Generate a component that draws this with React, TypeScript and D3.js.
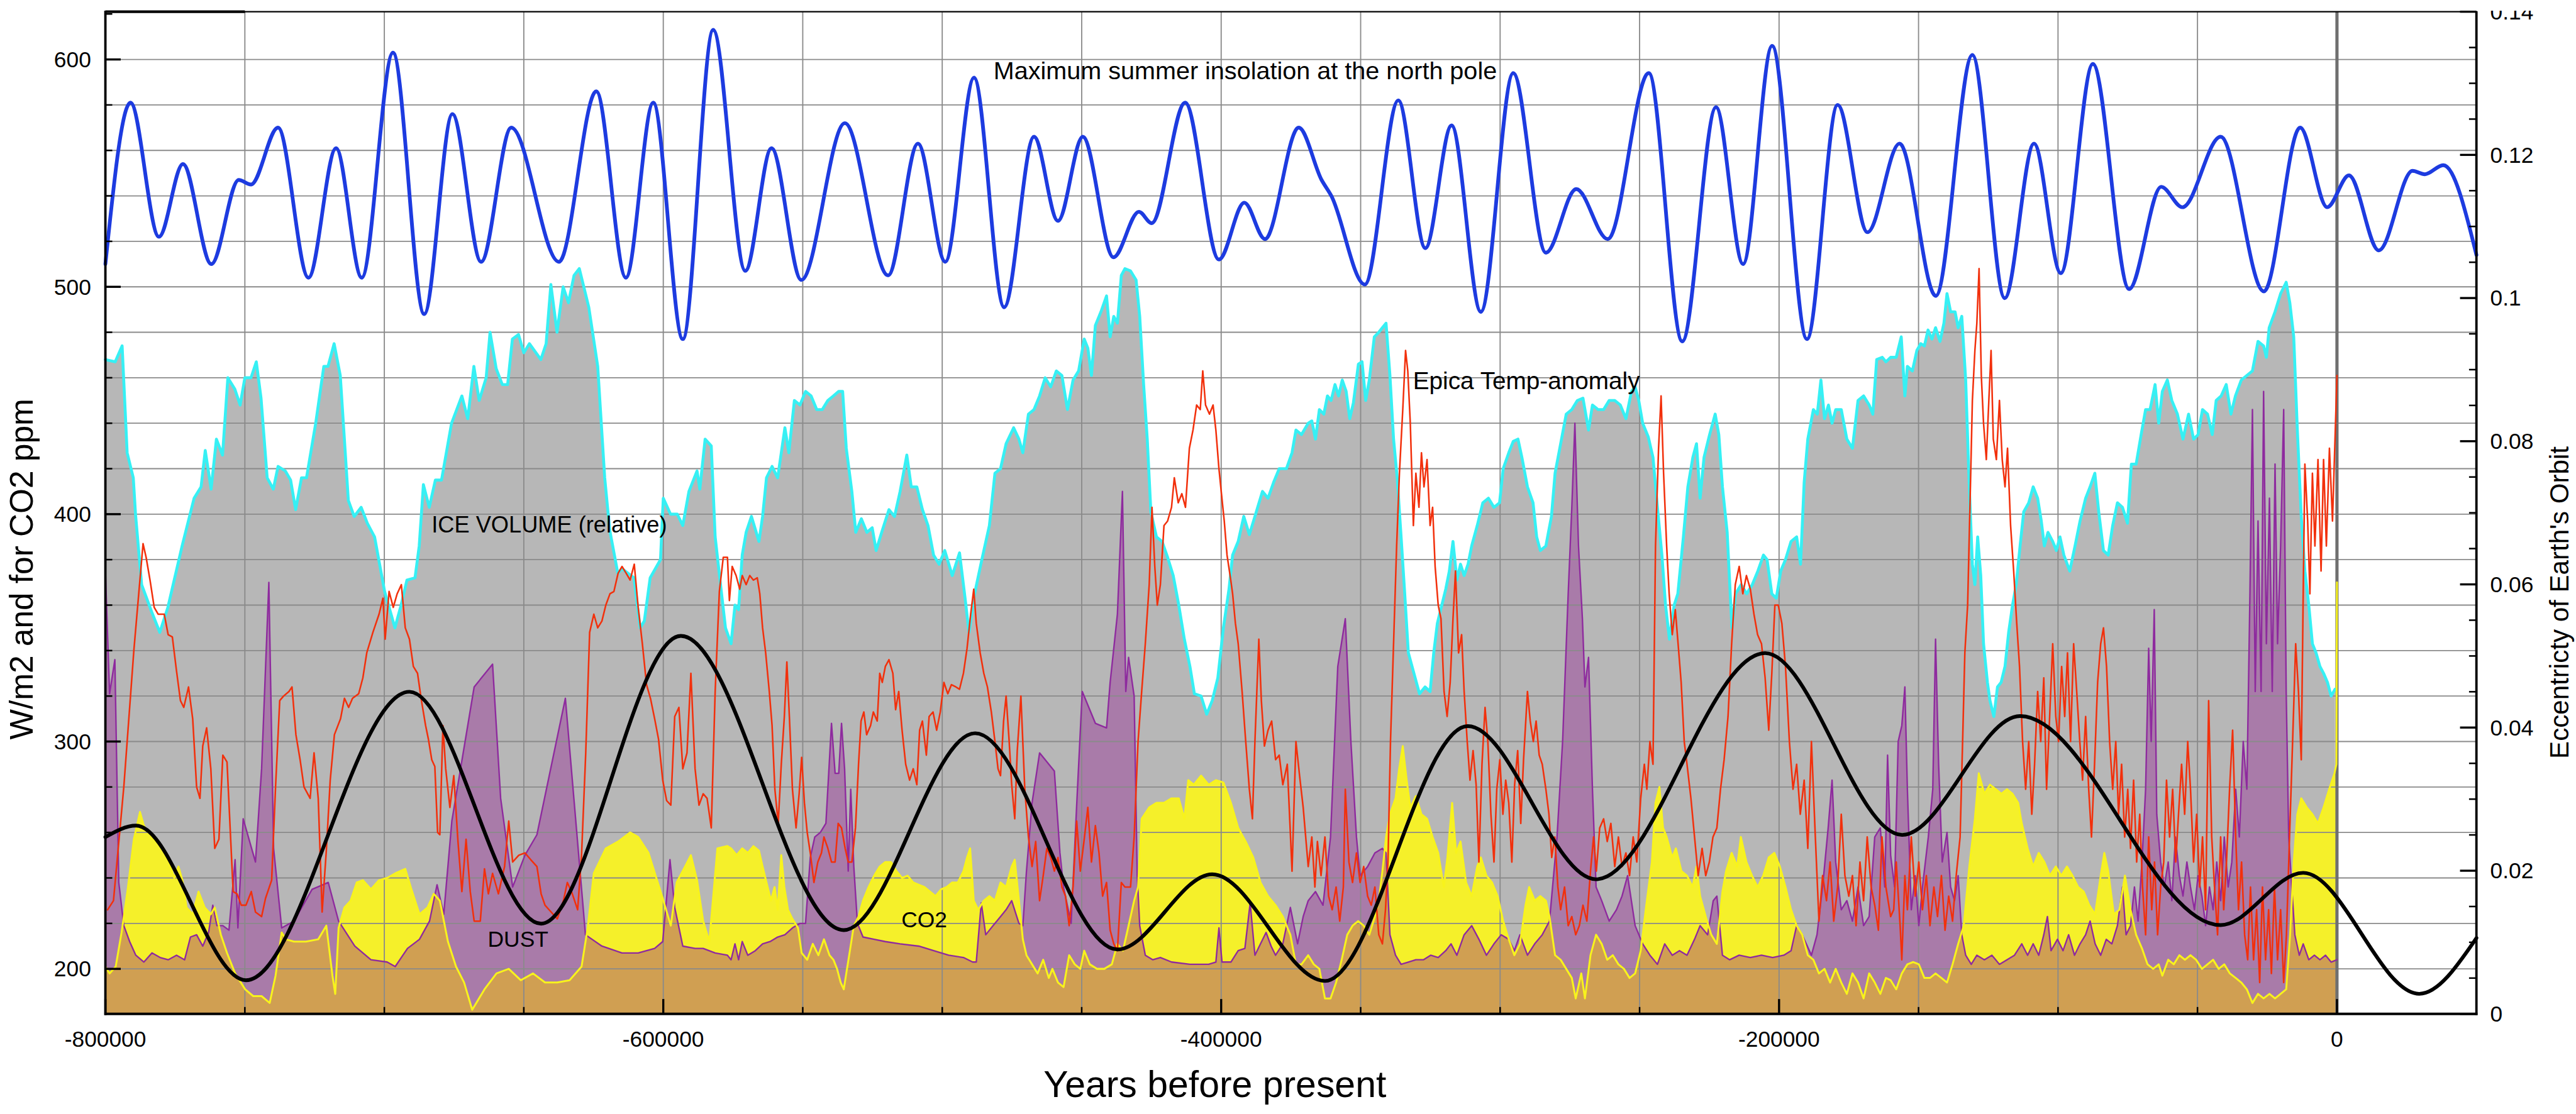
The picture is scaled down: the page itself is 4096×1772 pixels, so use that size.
import React from "react";
import * as d3 from "d3";

type Pt = [number, number];

// x values in thousands of years (negative = before present)

// Maximum summer insolation at the north pole (W/m2), turning points
const insolation: Pt[] = [
  [-800, 510], [-791, 581], [-780.8, 522], [-772.2, 554], [-762, 510], [-752.2, 547], [-747.8, 545], [-738.1, 570],
  [-727.2, 504], [-717.3, 561], [-708.1, 504], [-696.9, 603], [-685.7, 488], [-675.6, 576], [-665.3, 511], [-654.5, 570],
  [-637.4, 511], [-624, 586], [-613.4, 504], [-603.6, 581], [-593, 477], [-582.1, 613], [-570.6, 507], [-561.2, 561],
  [-550.5, 503], [-534.9, 572], [-519.4, 505], [-508.7, 563], [-498.9, 511], [-488.6, 592], [-477.8, 491], [-467.1, 566],
  [-458.5, 529], [-449.6, 566], [-438.6, 513], [-429.5, 533], [-424.9, 528], [-412.9, 581], [-400.8, 512], [-391.7, 537],
  [-384.3, 521], [-372.2, 570], [-364, 547], [-360.5, 540], [-348.5, 501], [-336.5, 582], [-326.8, 517], [-317.4, 571],
  [-306.9, 489], [-295.3, 594], [-283.6, 515], [-272.7, 543], [-261.4, 521], [-246.7, 594], [-234.7, 476], [-222.6, 579],
  [-212.9, 510], [-202.5, 606], [-190, 477], [-179, 580], [-168.3, 524], [-156.8, 563], [-143.8, 496], [-130.7, 602],
  [-119.1, 495], [-108.6, 563], [-99, 506], [-87.5, 598], [-74.5, 499], [-63, 544], [-55.4, 535], [-41.7, 566],
  [-26.2, 498], [-13.2, 570], [-3.5, 535], [4.3, 549], [15, 516], [27.1, 551], [31.5, 549.5], [38.1, 553.5], [50, 514],
];

// Eccentricity of Earth's orbit, turning points
const eccentricity: Pt[] = [
  [-800, 0.0247], [-789, 0.0263], [-749.6, 0.0047], [-691, 0.045], [-643.8, 0.0126], [-593.7, 0.0528],
  [-535.3, 0.0117], [-488.2, 0.0392], [-437.2, 0.009], [-403.2, 0.0195], [-362.8, 0.0046], [-311.6, 0.0402],
  [-265.6, 0.0188], [-205, 0.0504], [-155.9, 0.025], [-113.6, 0.0416], [-41.7, 0.0124], [-12.1, 0.0197],
  [29.5, 0.0028], [50, 0.0106],
];

// Relative ice volume
const iceVolume: Pt[] = [
  [-800, 468], [-796.5, 467], [-794, 474], [-792.2, 427], [-790, 416], [-789.2, 400], [-787, 369], [-783.4, 357], [-780.5, 348],
  [-777.6, 359], [-772.5, 386], [-768.2, 407], [-765.7, 412], [-764.2, 428], [-762.1, 411], [-760.2, 433], [-758, 426], [-756.1, 460],
  [-753.6, 455], [-751.7, 448], [-750, 460], [-747.8, 460], [-745.9, 467], [-744.2, 451], [-742, 416], [-739.8, 411], [-738.1, 421],
  [-735.5, 419], [-733.6, 415], [-731.8, 402], [-729.7, 416], [-727.9, 416], [-724.6, 440], [-721.7, 465], [-720.2, 465], [-718, 475],
  [-715.8, 461], [-712.9, 406], [-710.8, 399], [-708.3, 403], [-706.1, 396], [-703.5, 390], [-699.9, 366], [-696.2, 350], [-694, 360],
  [-691.9, 371], [-689, 372], [-687.5, 386], [-686, 413], [-683.9, 403], [-681.7, 415], [-679.5, 415], [-675.9, 440], [-672.2, 452],
  [-670.1, 442], [-667.9, 465], [-666, 450], [-663.5, 460], [-662.1, 480], [-659.9, 464], [-657.7, 457], [-655.8, 457], [-654.1, 477],
  [-651.9, 479], [-650, 471], [-648, 475], [-643.9, 468], [-642, 475], [-640.3, 501], [-638.1, 480], [-635.9, 500], [-634, 493],
  [-632, 505], [-630.1, 508], [-626.7, 491], [-623.5, 465], [-621, 416], [-619.2, 393], [-616.3, 374], [-614.8, 376], [-610.5, 372],
  [-608.3, 350], [-606.8, 353], [-604.7, 372], [-601, 380], [-600, 407], [-597.4, 400], [-595, 400], [-593, 395], [-590.8, 410],
  [-587.9, 419], [-586.9, 411], [-585, 433], [-582.8, 430], [-581.4, 390], [-579.2, 366], [-577.7, 350],
  [-575.7, 343], [-574.3, 360], [-573, 358], [-571.7, 382], [-570.3, 392], [-568.4, 399], [-565.7, 388], [-564.4, 399], [-563, 416],
  [-561, 421], [-559, 416], [-557.7, 427], [-556.4, 438], [-555, 427], [-553, 450], [-551, 448], [-549, 454], [-547, 452], [-545, 446],
  [-543, 446], [-541, 450], [-539, 452], [-537.1, 454], [-535.7, 454], [-534.4, 429], [-532.4, 410], [-531, 392], [-529, 398],
  [-527, 392], [-525.1, 394], [-523.7, 384], [-521.7, 392], [-519.1, 402], [-517.1, 399], [-515.1, 410], [-512.7, 426], [-511.1, 412],
  [-509.1, 412], [-507.1, 402], [-505.1, 395], [-503.1, 382], [-501.1, 378], [-499.1, 384], [-496.4, 373], [-493.8, 383], [-491.8, 363],
  [-490.4, 348], [-488.4, 365], [-485.8, 380], [-483.1, 395], [-481.1, 418], [-479.1, 420], [-477.1, 431], [-474.4, 438], [-472.5, 433],
  [-471.1, 427], [-469.1, 444], [-467.1, 446], [-465.1, 452], [-463.1, 460], [-461.1, 456], [-459.1, 463], [-457.1, 461], [-455.1, 446],
  [-453.1, 459], [-451.1, 463], [-449.1, 477], [-447.8, 473], [-446.5, 461], [-445.1, 483], [-443.1, 489], [-441.1, 496], [-439.8, 478],
  [-438.5, 487], [-437.2, 484], [-435.8, 505], [-434.5, 508], [-432.5, 507], [-430.5, 503], [-429.2, 487], [-427.8, 457], [-426.5, 433],
  [-425.2, 401], [-423.2, 390], [-421.2, 388], [-419.2, 381], [-417.2, 373], [-415.2, 360], [-413.2, 345], [-411.2, 333], [-409.6, 321],
  [-407.2, 320], [-405.2, 312], [-403.2, 318], [-401.2, 328], [-399.2, 350], [-397.2, 367], [-395.9, 382], [-393.9, 388], [-391.9, 399],
  [-389.9, 391], [-387.9, 399], [-385.2, 410], [-383.2, 407], [-381.2, 414], [-379.2, 420], [-376.6, 420], [-374.6, 427], [-373.2, 437],
  [-371.2, 435], [-368.8, 440],
  [-367.5, 441], [-366.2, 433], [-364.8, 446], [-363.2, 444], [-361.9, 452], [-360.6, 450], [-359.2, 457], [-357.9, 452], [-356.6, 459],
  [-355.2, 454], [-353.9, 442], [-352.6, 449], [-350.8, 466], [-349.5, 467], [-348.2, 450], [-346.9, 459], [-345.1, 478], [-343.5, 480],
  [-342.2, 482], [-340.9, 484], [-339.5, 461], [-338.2, 433], [-336.9, 416], [-335.5, 390], [-334.2, 365], [-332.9, 339], [-330.9, 330],
  [-328.9, 321], [-326.9, 324], [-325.1, 322], [-323.8, 339], [-322.5, 352], [-320.9, 360], [-319.5, 367], [-318.2, 375], [-316.9, 388],
  [-315.5, 371], [-314.2, 378], [-312.9, 373], [-311.5, 378], [-310.2, 386], [-308.2, 395], [-306.2, 405], [-304.2, 407], [-302.2, 403],
  [-300.2, 405], [-298.9, 420], [-296.9, 427], [-295.3, 432], [-293.6, 433], [-292.2, 425], [-290.2, 412], [-288.2, 405], [-286.9, 390],
  [-285.6, 384], [-283.6, 386], [-281.6, 399], [-280.3, 418], [-278.3, 431], [-276.3, 444], [-274.3, 446], [-272.3, 450], [-270.3, 451],
  [-268.3, 437], [-266.9, 448], [-264.9, 446], [-262.9, 446], [-260.9, 450], [-258.9, 450], [-256.9, 448], [-254.9, 442], [-252.9, 454],
  [-251.6, 456], [-250.3, 450], [-248.9, 440], [-246.9, 434], [-245.2, 425], [-243.6, 403], [-242, 382], [-240.7, 360], [-239.3, 345],
  [-237.6, 360], [-236.3, 365], [-234.3, 390], [-232.7, 412], [-230.9, 425], [-229.6, 431], [-228.3, 407], [-226.9, 425], [-224.9, 435],
  [-222.9, 444], [-221.6, 435], [-220.3, 412], [-218.6, 392], [-216.9, 350], [-215.6, 365], [-213.6, 369], [-211.6, 365], [-209.6, 369],
  [-207.6, 375], [-205.6, 382], [-204.3, 380], [-202.6, 365], [-201, 363], [-199.4, 375], [-197.7, 380], [-195.7, 388], [-193.7, 390],
  [-192.3, 378], [-191, 414], [-189.7, 433], [-187.7, 446], [-186.3, 444], [-185, 459], [-183.7, 442], [-182.3, 448], [-181, 440],
  [-179.7, 446], [-177.7, 446], [-175.7, 433], [-173.7, 429], [-171.7, 450], [-169.7, 452], [-167.7, 448], [-166.4, 444], [-165, 468],
  [-163, 469], [-161.7, 467], [-160, 469],
  [-158, 469], [-156.2, 478], [-154.9, 452], [-154, 465], [-152.2, 463], [-150.6, 472], [-149.2, 475], [-147.9, 474], [-146.6, 481],
  [-145.2, 477], [-143.9, 482], [-142.3, 476], [-140.9, 484], [-139.8, 497], [-138.5, 489], [-136.9, 489], [-135.8, 482], [-134.5, 487],
  [-133.1, 459], [-131.8, 412], [-130.7, 378], [-129.8, 369], [-128.8, 390], [-127.7, 373], [-126.7, 343], [-125.3, 326], [-124.4, 318],
  [-123, 311], [-121.7, 324], [-120.4, 326], [-119, 333], [-117.7, 348], [-116.3, 360], [-115, 369], [-113.6, 386], [-112.3, 401],
  [-110.5, 405], [-108.9, 412], [-107.3, 407], [-106, 397], [-104.9, 386], [-103.6, 392], [-101.9, 388], [-100.6, 384], [-99.3, 390],
  [-97.9, 382], [-95.8, 375], [-93.9, 386], [-92.1, 397], [-90.1, 407], [-88.5, 412], [-86.8, 418], [-85.4, 401], [-83.7, 384],
  [-82, 382], [-80.4, 395], [-78.7, 405], [-76.9, 403], [-75.1, 396], [-73.7, 422], [-72, 422], [-70.2, 435], [-68.6, 446], [-67, 446],
  [-65.2, 457], [-63.9, 440], [-62.6, 454], [-60.8, 459], [-59.2, 450], [-57.2, 444], [-55.2, 433], [-53.2, 444], [-51.4, 433],
  [-49.8, 435], [-48.2, 446], [-46.4, 444], [-44.7, 435], [-43.3, 450], [-41.5, 452], [-39.7, 457], [-38, 444], [-36.4, 452],
  [-34.3, 459], [-32.3, 461], [-30.3, 463], [-28.3, 476], [-26.3, 474], [-25.3, 469], [-24.3, 482], [-22.2, 489], [-20.2, 497],
  [-18.2, 502], [-16.9, 493], [-15.5, 478], [-14.2, 437], [-12.8, 399], [-11.5, 375], [-10.1, 360], [-8.8, 343], [-7.5, 339],
  [-6.1, 333], [-4.8, 330], [-3.4, 326], [-2.1, 320], [-0.7, 323],
];

// EPICA temperature anomaly (drawn on the left scale)
const epicaTemp: Pt[] = [
  [-799.2, 226], [-797.1, 230], [-793.4, 280], [-789.8, 340], [-786.5, 387], [-785.4, 381], [-784, 371], [-782.5, 359], [-781.1, 356],
  [-778.9, 356], [-777.5, 347], [-776, 346], [-774.5, 331], [-773.1, 318], [-771.9, 315], [-770.2, 324], [-768.7, 310], [-767.3, 280],
  [-766.1, 275], [-765.1, 298], [-763.7, 306], [-762.2, 288], [-760.8, 253], [-759.3, 257], [-757.9, 294], [-756.4, 291], [-754.2, 234],
  [-752.8, 233], [-751.3, 228], [-749.6, 228], [-747.7, 234], [-746.2, 225], [-744, 223], [-742.6, 231], [-740.4, 239], [-739, 280],
  [-737.5, 318], [-736.1, 320], [-734.2, 322], [-733.1, 324], [-731.7, 303], [-730.2, 292], [-728.8, 280], [-726.6, 275], [-725.2, 295],
  [-723.7, 275], [-722.3, 225], [-720.8, 252], [-719.4, 283], [-717.9, 303], [-715.7, 310], [-714.3, 319], [-712.8, 315], [-711.4, 319],
  [-709.2, 321], [-707.7, 328], [-706.3, 339], [-704.1, 348], [-701.9, 356], [-700.5, 363], [-699.7, 345], [-698.3, 366], [-696.8, 359],
  [-695.4, 365], [-693.9, 369], [-692.5, 350], [-691, 345], [-689.6, 333], [-688.1, 330], [-686.7, 318], [-685.2, 307], [-684.2, 301],
  [-683, 292], [-681.9, 289], [-680.9, 260], [-680.1, 259], [-679, 307], [-678, 288], [-676.5, 271], [-675.1, 285], [-673.6, 256],
  [-672.2, 234], [-670.7, 257], [-669.2, 234], [-667.8, 221], [-665.6, 221], [-664.1, 244], [-662.7, 233], [-661.2, 242], [-659.1, 233],
  [-656.9, 245], [-655.4, 265], [-654, 247], [-651.8, 250], [-649.6, 251], [-647.5, 248], [-645.3, 245], [-643.8, 233], [-642.4, 228],
  [-640.2, 225], [-638, 222], [-635.8, 230], [-634.4, 238], [-632.9, 234], [-630.7, 226], [-629.3, 250], [-627.8, 295], [-626.4, 348],
  [-624.9, 356], [-623.5, 350], [-622, 353], [-620.6, 360], [-619.1, 365], [-617.7, 366], [-616.2, 374], [-614.8, 377], [-613.3, 374],
  [-611.9, 371], [-610.4, 378], [-609, 359], [-607.5, 343], [-606, 325], [-604.6, 319], [-603.1, 310], [-601.7, 301], [-600.2, 283],
  [-598.8, 274], [-597.3, 272], [-595.9, 311], [-594.4, 315], [-593, 288], [-591.5, 295], [-590.1, 330], [-588.6, 288], [-587.2, 272],
  [-585.7, 277], [-584.3, 275], [-582.8, 262], [-581.4, 322], [-579.9, 366], [-578.5, 381], [-577, 381],
  [-576.3, 362], [-575.3, 377], [-573.9, 373], [-572.6, 367], [-571.7, 373], [-570.3, 369], [-569, 373], [-567.7, 371], [-566.3, 372],
  [-565.4, 365], [-564.4, 350], [-563.3, 339], [-562, 322], [-561, 307], [-560, 279], [-558.8, 264], [-557.7, 290], [-556.6, 311],
  [-555.7, 335], [-554.8, 311], [-553.7, 279], [-552.4, 262], [-551.3, 277], [-550.4, 293], [-549.4, 273], [-548.4, 260], [-547.3, 251],
  [-546, 238], [-544.6, 247], [-543.3, 251], [-542.4, 258], [-541, 253], [-539.7, 247], [-538.4, 247], [-537.3, 264], [-536.1, 262],
  [-534.8, 253], [-533.7, 247], [-532.4, 247], [-531.1, 262], [-530, 290], [-529.1, 309], [-528.1, 313], [-527.1, 303], [-525.7, 307],
  [-524.7, 313], [-523.3, 309], [-522.4, 330], [-521.5, 326], [-520.4, 333], [-519.1, 336], [-517.7, 330], [-516.7, 314], [-515.6, 322],
  [-514.4, 305], [-513.1, 290], [-511.7, 283], [-510.4, 288], [-509.1, 281], [-508.1, 305], [-507.1, 309], [-505.7, 294], [-504.7, 311],
  [-503.3, 313], [-502, 305], [-500.7, 313], [-499.4, 326], [-498, 321], [-496.7, 325], [-495.1, 324], [-493.8, 323], [-492.4, 330],
  [-491.1, 341], [-489.8, 356], [-488.7, 367], [-487.8, 352], [-486.4, 339], [-485.1, 330], [-483.8, 324], [-482.4, 313], [-481.1, 300],
  [-480, 288], [-479.1, 285], [-478, 309], [-477.1, 320], [-476, 300], [-475.1, 281], [-474, 266], [-473.1, 296], [-471.8, 320],
  [-470.4, 279], [-469.1, 258], [-467.8, 245], [-466.5, 256], [-465.1, 230], [-463.8, 241], [-462.5, 253], [-461.1, 249], [-459.8, 243],
  [-458.5, 249], [-457.1, 236], [-455.8, 232], [-454.5, 219], [-453.1, 236], [-451.8, 265], [-450.5, 243], [-449.1, 257], [-447.8, 271],
  [-446.5, 247], [-445.1, 263], [-443.8, 251], [-442.5, 232], [-441.1, 238], [-439.8, 217], [-438.5, 211], [-437.2, 208], [-435.8, 238],
  [-434.5, 236], [-432.5, 236], [-431.2, 258], [-429.8, 300], [-428.5, 322], [-427.2, 343], [-425.8, 369], [-424.8, 403], [-423.8, 377],
  [-422.9, 360], [-421.8, 369], [-420.5, 395], [-419.2, 397], [-417.8, 403], [-416.8, 416], [-415.4, 405], [-414.1, 409], [-412.8, 403],
  [-411.4, 429], [-410.1, 437], [-408.8, 448], [-407.5, 446], [-406.6, 463], [-405.6, 448], [-404.2, 444], [-402.9, 448], [-401.9, 437],
  [-400.8, 420], [-399.9, 409], [-398.9, 397], [-397.9, 382], [-396.8, 373], [-395.9, 365], [-394.9, 352], [-393.9, 343], [-392.5, 322],
  [-391.2, 300], [-389.9, 279], [-388.8, 266], [-387.9, 300], [-386.5, 345], [-385.6, 318], [-384.5, 298], [-383.2, 305], [-381.9, 309],
  [-380.5, 292], [-379.2, 294], [-377.9, 281], [-376.3, 290], [-374.6, 243], [-373.2, 300], [-371.9, 285], [-370.6, 271], [-368.8, 245],
  [-367.5, 258], [-366.4, 236], [-365.5, 256], [-364.2, 241], [-362.8, 258], [-361.5, 232], [-360.2, 226], [-358.8, 236], [-357.5, 221],
  [-356.2, 236], [-355.5, 279], [-354.2, 247], [-352.9, 238], [-351.5, 251], [-350.2, 238], [-348.9, 245], [-347.5, 232], [-346.2, 228],
  [-344.9, 236], [-343.5, 215], [-342.2, 211], [-341.1, 226], [-340.2, 247], [-339.3, 300], [-338.2, 343], [-337.1, 386], [-336.1, 418],
  [-334.9, 446], [-333.9, 472], [-333.1, 463], [-332.2, 440], [-331.1, 395], [-330.2, 418], [-329.1, 403], [-328.2, 427], [-327.3, 412],
  [-326.2, 424], [-325.1, 395], [-324.2, 403], [-323.3, 377], [-322.2, 360], [-321.2, 354], [-320.1, 322], [-319, 311], [-317.9, 326],
  [-316.9, 354], [-316, 375], [-314.9, 339], [-313.8, 347], [-312.9, 322], [-311.8, 300], [-310.8, 283], [-309.7, 296], [-308.6, 281],
  [-307.6, 247], [-306.5, 290], [-305.4, 315], [-304.4, 300], [-303.3, 268], [-302.2, 247], [-301.2, 279], [-300.1, 292], [-299, 268],
  [-298, 283], [-296.9, 273], [-295.8, 247], [-294.8, 281], [-293.7, 296], [-292.6, 264], [-291.6, 292], [-290.2, 322], [-289.2, 309],
  [-288.1, 300], [-287.1, 309], [-286, 294], [-284.9, 290], [-283.6, 279], [-282.5, 268], [-281.5, 249], [-280.4, 258], [-279.3, 236],
  [-278.3, 226], [-276.9, 236], [-275.6, 219], [-274.3, 223], [-272.9, 215], [-271.6, 219], [-270.3, 228], [-268.9, 221], [-267.6, 243],
  [-266.5, 258], [-265.5, 243], [-264.3, 262], [-262.9, 266], [-261.6, 256], [-260.3, 264], [-258.9, 245], [-257.6, 258], [-256.3, 245],
  [-254.9, 251], [-253.6, 241], [-252.3, 258], [-251, 247], [-249.6, 275], [-248.3, 290], [-247.4, 279], [-246.3, 300], [-245.2, 290],
  [-244.3, 386], [-243.2, 429], [-242.3, 452], [-241.4, 418], [-240.3, 386], [-239.4, 365], [-238.3, 347], [-237.2, 358], [-236.2, 343],
  [-235.1, 326], [-234, 300], [-233, 290], [-231.6, 275], [-230.3, 258], [-229, 241], [-227.6, 253], [-226.3, 241], [-225, 247],
  [-223.7, 258], [-222.3, 262], [-221, 279], [-219.7, 292], [-218.3, 311], [-217, 343], [-215.7, 369], [-214.3, 377], [-213, 365],
  [-211.7, 373], [-210.3, 367], [-209, 356], [-207.7, 347], [-206.3, 343], [-205, 328], [-203.7, 305], [-202.6, 330], [-201.5, 360],
  [-200.3, 360], [-199, 352], [-197.7, 333], [-196.3, 300], [-195, 279], [-193.7, 290], [-192.4, 268], [-191, 283], [-189.7, 253],
  [-188.4, 300], [-187, 258], [-185.7, 221], [-184.4, 241], [-183, 230], [-181.7, 247], [-180.4, 221], [-179, 236], [-177.7, 268],
  [-176.4, 241], [-175, 232], [-173.7, 241], [-172.4, 219], [-171, 247], [-169.7, 230], [-168.4, 258], [-167, 236], [-165.7, 228],
  [-164.4, 217], [-163.1, 258], [-161.7, 236], [-160, 223],
  [-158.9, 226], [-158, 247], [-156.6, 219], [-156, 204], [-154.9, 241], [-154, 226], [-152.6, 258], [-151.2, 232], [-149.9, 247],
  [-148.6, 226], [-147.2, 241], [-145.9, 219], [-144.5, 236], [-143.2, 223], [-141.8, 241], [-140.5, 217], [-139.2, 232], [-137.8, 221],
  [-136.5, 241], [-135.1, 258], [-134.2, 300], [-133.4, 339], [-132.4, 360], [-131.5, 407], [-130.7, 450], [-129.8, 472], [-129.1, 484],
  [-128.3, 508], [-127.5, 461], [-126.7, 440], [-125.7, 424], [-124.8, 450], [-124, 472], [-123.2, 433], [-122.1, 424], [-121, 450],
  [-120, 424], [-119, 412], [-118.1, 429], [-117, 395], [-115.9, 375], [-114.8, 352], [-113.8, 333], [-112.7, 300], [-111.6, 279],
  [-110.5, 300], [-109.4, 268], [-108.4, 290], [-107.3, 322], [-106.2, 300], [-105.1, 328], [-104.1, 279], [-103, 311], [-101.9, 343],
  [-100.8, 311], [-99.8, 300], [-98.7, 333], [-97.6, 311], [-96.6, 339], [-95.5, 300], [-94.4, 343], [-93.3, 322], [-92.2, 300],
  [-91.2, 283], [-90.1, 311], [-89, 279], [-88, 258], [-86.9, 290], [-85.8, 326], [-84.7, 343], [-83.7, 350], [-82.6, 333], [-81.5, 300],
  [-80.4, 279], [-79.3, 300], [-78.3, 268], [-77.2, 290], [-76.1, 258], [-75, 279], [-74, 253], [-72.9, 283], [-71.8, 247], [-70.7, 268],
  [-69.7, 236], [-68.6, 215], [-67.5, 258], [-66.4, 226], [-65.4, 247], [-64.3, 215], [-63.2, 236], [-62.1, 247], [-61.1, 283], [-60, 258],
  [-58.9, 279], [-57.8, 247], [-56.8, 268], [-55.7, 290], [-54.6, 268], [-53.5, 300], [-52.5, 279], [-51.4, 247], [-50.3, 268],
  [-49.2, 236], [-48.2, 258], [-47.1, 226], [-46, 318], [-44.9, 258], [-43.9, 236], [-42.8, 215], [-41.7, 258], [-40.6, 226], [-39.6, 247],
  [-38.5, 279], [-37.4, 305], [-36.3, 258], [-35.3, 226], [-34.2, 247], [-33.1, 215], [-32, 204], [-31, 236], [-29.9, 204], [-28.8, 226],
  [-27.7, 194], [-26.7, 236], [-25.6, 204], [-24.5, 226], [-23.5, 198], [-22.4, 236], [-21.3, 204], [-20.2, 226], [-19.1, 194],
  [-18.1, 215], [-17, 258], [-15.9, 300], [-14.8, 343], [-13.8, 322], [-12.8, 292], [-12.1, 365], [-11.5, 422], [-10.5, 397], [-9.7, 365],
  [-8.8, 418], [-7.9, 386], [-6.8, 424], [-5.7, 375], [-4.8, 424], [-3.8, 386], [-2.7, 429], [-1.6, 397], [-0.7, 433], [0, 461],
];

// Dust (drawn on the left scale)
const dust: Pt[] = [
  [-800, 375], [-798.5, 321], [-796.6, 336], [-795.2, 238], [-793.4, 219], [-791.3, 212], [-789.1, 206], [-786.2, 203], [-783.3, 207],
  [-780.4, 205], [-777.5, 204], [-774.5, 206], [-771.6, 204], [-769.5, 214], [-767.3, 215], [-765.1, 210], [-763, 216], [-761.5, 228],
  [-760, 219], [-757.9, 219], [-755.7, 217], [-753.5, 248], [-752.5, 218], [-750.6, 266], [-746.2, 247], [-744, 288], [-741.4, 370],
  [-739.7, 253], [-736.8, 218], [-732.4, 221], [-725.9, 235], [-720.1, 238], [-716.4, 221], [-710.6, 210], [-704.8, 204], [-699, 203],
  [-696.1, 201], [-691.7, 209], [-687.4, 213], [-683.8, 221], [-681.1, 237], [-678.7, 224], [-675.8, 265], [-667.8, 324], [-661.2, 334],
  [-658.3, 275], [-654, 236], [-649.6, 250], [-645.3, 259], [-635.1, 319], [-627.9, 215], [-622, 210], [-614.8, 207], [-609, 207],
  [-603.1, 209], [-600.2, 212], [-597.6, 248], [-595.9, 227], [-593, 210], [-588.6, 209], [-585.7, 209], [-581.4, 207], [-577, 206],
  [-575.7, 204], [-574.3, 211], [-573, 204], [-571.7, 212], [-569.7, 206], [-567, 208], [-564.4, 211], [-561.7, 212], [-559, 214],
  [-556.4, 215], [-553.7, 218], [-551, 220], [-549, 220], [-547.3, 249], [-545.7, 258], [-543.7, 260], [-541.7, 264], [-539.7, 308],
  [-538.4, 286], [-537.1, 286], [-536.1, 308], [-535, 288], [-533.7, 243], [-532.8, 279], [-531.7, 245], [-530.4, 220], [-528.4, 214],
  [-524.4, 213], [-520.4, 212], [-515.1, 211], [-508.4, 210], [-503.1, 208], [-497.7, 206], [-492.4, 205], [-489.1, 203], [-487.8, 203],
  [-486, 229], [-484.4, 215], [-481.8, 219], [-479.1, 223], [-477.1, 226], [-475.1, 230], [-472.5, 220], [-471.1, 219], [-469.8, 243],
  [-467.8, 273], [-465.1, 295], [-459.8, 287], [-457.8, 251], [-456.5, 236], [-453.8, 220], [-451.8, 272], [-449.8, 322], [-445.1, 308],
  [-441.1, 306], [-439.8, 326], [-437.2, 356], [-435.4, 410], [-434.2, 322], [-433.2, 337], [-431.2, 320], [-430.1, 241], [-429.2, 219],
  [-427.2, 206], [-424.5, 204], [-421.8, 205], [-417.8, 203], [-411.2, 202], [-404.5, 202], [-401.9, 203], [-400.8, 218], [-399.7, 203],
  [-396.5, 203], [-393.9, 208], [-391.5, 209], [-389.6, 229], [-387.9, 206], [-385.9, 211], [-383.9, 216], [-382.1, 210], [-380.5, 206],
  [-377.9, 211], [-375.2, 227], [-372.6, 211], [-370.6, 223], [-368.8, 230],
  [-366.2, 234], [-363.5, 228], [-360.8, 258], [-358.2, 333], [-355.5, 354], [-353.5, 300], [-351.5, 258], [-350.2, 241], [-347.5, 245],
  [-344.9, 251], [-342.2, 253], [-340.9, 251], [-339.5, 215], [-337.5, 206], [-335.5, 202], [-332.9, 203], [-330.2, 204], [-327.5, 204],
  [-324.9, 206], [-322.2, 205], [-319.5, 208], [-317.6, 211], [-315.5, 206], [-312.9, 215], [-310.2, 219], [-307.6, 213], [-304.9, 206],
  [-302.2, 211], [-299.6, 215], [-296.9, 213], [-294.9, 208], [-292.9, 215], [-290.2, 206], [-287.6, 211], [-284.9, 215], [-282.3, 221],
  [-279.6, 258], [-277.6, 300], [-275.6, 365], [-274.3, 403], [-273.2, 440], [-271.9, 386], [-270.5, 354], [-269.6, 324], [-268.3, 337],
  [-266.9, 279], [-265.6, 236], [-263.6, 230], [-260.9, 221], [-258.3, 226], [-256.3, 232], [-254.3, 241], [-251.6, 219], [-248.9, 211],
  [-246.3, 206], [-243.6, 202], [-241, 211], [-238.3, 206], [-235.7, 208], [-233, 206], [-230.3, 213], [-228.3, 219], [-225.6, 215],
  [-223.6, 230], [-222.3, 232], [-220.3, 206], [-217.7, 204], [-214.3, 206], [-210.3, 205], [-206.3, 206], [-202.3, 205], [-198.3, 206],
  [-195.7, 208], [-193.7, 219], [-191.7, 215], [-188.4, 206], [-186.4, 215], [-184.4, 236], [-182.4, 262], [-181, 283], [-179.7, 247],
  [-177.7, 226], [-175.7, 230], [-173.7, 221], [-171.7, 236], [-169.7, 219], [-167.7, 223], [-165.7, 258], [-163.7, 262], [-162.1, 236],
  [-161.1, 294], [-160, 250],
  [-158.6, 236], [-157.3, 300], [-156, 307], [-154.9, 324], [-154, 279], [-152.6, 226], [-151.2, 241], [-149.9, 219], [-148.6, 236],
  [-146.5, 258], [-144.9, 279], [-143.9, 345], [-142.8, 290], [-141.5, 247], [-139.8, 260], [-138.5, 236], [-137.1, 230], [-135.8, 241],
  [-134.5, 215], [-133.1, 206], [-131.1, 202], [-129.1, 206], [-126.4, 204], [-123.7, 206], [-121, 202], [-118.3, 204], [-115.6, 206],
  [-113, 211], [-110.9, 206], [-108.9, 211], [-106.9, 206], [-105.1, 215], [-103.8, 223], [-102.5, 208], [-100.2, 213], [-98.2, 208],
  [-96.2, 215], [-94.1, 206], [-92.1, 211], [-90.1, 215], [-88.5, 221], [-86.7, 211], [-84.7, 206], [-82.7, 213], [-80.7, 211],
  [-78.7, 219], [-76.9, 236], [-75.6, 215], [-74, 219], [-72.6, 236], [-71.3, 221], [-69.9, 247], [-68.6, 279], [-67.5, 341],
  [-66.6, 300], [-65.5, 358], [-64.6, 268], [-63.2, 247], [-61.9, 236], [-60.5, 247], [-59.2, 230], [-57.9, 258], [-56.5, 241],
  [-55.2, 232], [-53.8, 247], [-52.5, 236], [-51.1, 226], [-49.8, 241], [-48.4, 232], [-47.1, 219], [-45.7, 236], [-44.4, 226],
  [-43.1, 247], [-41.7, 230], [-40.4, 258], [-39, 236], [-37.7, 247], [-36.3, 279], [-35, 258], [-33.6, 300], [-32.3, 279], [-31.2, 365],
  [-30.3, 446], [-29.3, 322], [-28.3, 397], [-27.2, 322], [-26.3, 454], [-25.3, 343], [-24.2, 407], [-23.2, 322], [-22.2, 422],
  [-21.3, 343], [-20.2, 386], [-19.1, 446], [-18.2, 322], [-17.3, 258], [-16.2, 236], [-15.1, 215], [-13.5, 206], [-12.1, 211],
  [-10.1, 204], [-8.1, 206], [-6.1, 204], [-4.1, 206], [-2.1, 203], [0, 204],
];

// CO2 (ppm)
const co2: Pt[] = [
  [-800, 201], [-798.5, 198], [-796.3, 201], [-794.2, 216], [-792, 235], [-789.8, 257], [-787.6, 269], [-786.2, 263], [-784, 259],
  [-781.8, 256], [-779.6, 253], [-777.5, 248], [-775.3, 240], [-773.8, 245], [-772.4, 239], [-770.9, 227], [-768.7, 224], [-766.6, 234],
  [-764.4, 227], [-762.2, 224], [-760.8, 227], [-758.6, 215], [-756.4, 207], [-753.5, 198], [-749.9, 191], [-747, 188], [-744, 188],
  [-741.1, 185], [-739, 197], [-736.8, 216], [-735.3, 213], [-732.4, 212], [-728.1, 212], [-723.7, 213], [-720.8, 219], [-718.6, 197],
  [-717.6, 189], [-716.4, 218], [-714.3, 227], [-712.1, 230], [-709.9, 238], [-707.7, 239], [-704.8, 235], [-701.9, 239], [-699, 240],
  [-696.1, 242], [-692.5, 244], [-690.3, 235], [-687.4, 224], [-684.5, 227], [-682.3, 233], [-680.1, 230], [-677.2, 212], [-674.3, 201],
  [-671.4, 194], [-668.5, 182], [-664.1, 191], [-659.8, 198], [-655.4, 200], [-651.1, 195], [-646.7, 198], [-642.4, 194], [-638, 194],
  [-633.6, 195], [-629.3, 201], [-627.1, 218], [-624.9, 242], [-620.6, 253], [-616.2, 256], [-611.9, 260], [-609, 258], [-605.3, 251],
  [-600.2, 231], [-597.3, 219], [-595.2, 238], [-592.2, 245], [-590.1, 250], [-587.9, 239], [-585.7, 221], [-583.5, 212], [-580.6, 253],
  [-577, 254],
  [-575.7, 253], [-573.7, 250], [-571.7, 253], [-569.7, 251], [-567.7, 254], [-565.7, 252], [-564.4, 245], [-563, 238], [-561.4, 230],
  [-560.1, 236], [-559, 226], [-557.7, 250], [-556.6, 236], [-555.3, 226], [-553.7, 222], [-551.7, 218], [-550.4, 207], [-548.4, 204],
  [-546.4, 211], [-544.4, 206], [-542.4, 213], [-540.4, 206], [-539, 204], [-537.7, 200], [-536.4, 194], [-535.3, 191], [-534.4, 198],
  [-533.1, 208], [-531.7, 219], [-530, 223], [-528.4, 230], [-526.4, 236], [-524.4, 241], [-522.4, 245], [-520.4, 247], [-518.4, 247],
  [-516.4, 243], [-514.4, 240], [-512.4, 241], [-510.4, 238], [-508.4, 237], [-506.4, 236], [-504.4, 234], [-502.4, 232], [-500.4, 235],
  [-498.4, 236], [-496.4, 238], [-494.4, 238], [-492.4, 243], [-491.1, 249], [-490, 253], [-488.7, 230], [-487.1, 226], [-485.1, 230],
  [-483.1, 232], [-481.1, 230], [-479.1, 238], [-477.1, 236], [-475.1, 245], [-474, 248], [-472.5, 230], [-471.1, 213], [-469.8, 206],
  [-467.8, 202], [-465.8, 198], [-463.8, 204], [-461.8, 196], [-460.5, 200], [-458.5, 194], [-456.5, 192], [-454.5, 206], [-452.5, 202],
  [-450.5, 200], [-449.1, 208], [-447.1, 202], [-444.5, 200], [-441.9, 200], [-439.2, 202], [-437.2, 211], [-435.2, 208], [-433.2, 219],
  [-431.2, 230], [-429.8, 236], [-428.5, 266], [-425.8, 271], [-423.2, 273], [-420.5, 273], [-417.8, 275], [-415.2, 275], [-413.2, 266],
  [-411.8, 283], [-409.8, 281], [-407.2, 285], [-404.5, 281], [-401.9, 283], [-399.2, 282], [-396.5, 273], [-393.9, 262], [-391.2, 256],
  [-388.5, 249], [-385.9, 238], [-383.2, 232], [-380.5, 228], [-377.9, 223], [-375.2, 215], [-373.2, 202], [-371.2, 202], [-368.8, 206],
  [-366.8, 202], [-364.8, 200], [-362.8, 187], [-360.8, 187], [-358.8, 194], [-356.8, 204], [-354.8, 215], [-352.9, 219], [-350.9, 221],
  [-348.9, 219], [-346.9, 215], [-344.9, 223], [-343.5, 230], [-342.2, 243], [-340.9, 258], [-339.5, 268], [-337.5, 275], [-336.2, 288],
  [-334.9, 298], [-333.5, 283], [-332.2, 271], [-330.2, 276], [-328.2, 268], [-326.2, 266], [-324.2, 258], [-322.2, 251], [-320.2, 236],
  [-318.9, 249], [-317.2, 273], [-315.8, 251], [-314.2, 256], [-312.2, 238], [-310.2, 232], [-308.2, 245], [-306.9, 249], [-304.9, 241],
  [-302.9, 238], [-300.9, 232], [-298.9, 221], [-296.9, 213], [-294.9, 206], [-292.9, 211], [-290.9, 228], [-289.6, 236], [-287.6, 230],
  [-285.6, 232], [-283.6, 230], [-282.3, 223], [-280.3, 206], [-278.3, 204], [-276.3, 200], [-274.3, 196], [-272.9, 187], [-270.9, 198],
  [-269.6, 187], [-267.6, 206], [-265.6, 215], [-263.6, 211], [-261.6, 204], [-259.6, 206], [-257.6, 202], [-255.6, 200], [-253.6, 196],
  [-251.6, 198], [-249.6, 208], [-247.6, 228], [-245.6, 247], [-244.3, 273], [-242.9, 280], [-241.6, 262], [-240.3, 258], [-238.3, 249],
  [-237, 253], [-235, 243], [-233, 241], [-231, 236], [-229.6, 245], [-228.3, 232], [-226.3, 223], [-224.3, 215], [-222.3, 211],
  [-220.3, 234], [-219, 243], [-217, 251], [-215, 245], [-213.7, 258], [-211.7, 247], [-209.7, 241], [-207.7, 236], [-205.7, 241],
  [-203.7, 249], [-201.7, 251], [-199.7, 245], [-197.7, 236], [-195.7, 226], [-193.7, 219], [-191.7, 215], [-189.7, 206], [-187.7, 204],
  [-185.7, 198], [-183.7, 200], [-181.7, 194], [-179.7, 200], [-177.7, 194], [-175.7, 189], [-173.7, 198], [-171.7, 194], [-169.7, 187],
  [-167.7, 198], [-165.7, 194], [-163.7, 189], [-161.7, 196], [-160, 195],
  [-158, 191], [-156, 198], [-154, 202], [-151.9, 203], [-149.9, 202], [-147.9, 196], [-145.9, 196], [-143.9, 198], [-141.8, 196],
  [-139.8, 194], [-137.8, 202], [-135.8, 211], [-133.8, 219], [-131.8, 245], [-129.8, 266], [-128.4, 286], [-126.4, 277], [-124.4, 281],
  [-122.3, 279], [-120.3, 277], [-118.3, 279], [-116.3, 277], [-114.3, 273], [-113, 264], [-110.9, 253], [-108.9, 245], [-106.9, 251],
  [-104.9, 247], [-102.9, 241], [-100.8, 245], [-98.8, 241], [-96.8, 245], [-94.8, 241], [-92.8, 236], [-90.8, 234], [-88.8, 228],
  [-86.7, 224], [-84.7, 241], [-83.4, 251], [-82, 243], [-80, 224], [-78, 226], [-76, 241], [-74, 226], [-72, 215], [-69.9, 209],
  [-67.9, 202], [-65.9, 200], [-63.9, 202], [-62.6, 197], [-60.5, 204], [-58.5, 202], [-56.5, 206], [-54.5, 204], [-52.5, 206],
  [-50.5, 204], [-48.4, 200], [-46.4, 202], [-44.4, 204], [-42.4, 200], [-40.4, 202], [-38.4, 198], [-36.3, 196], [-34.3, 194],
  [-32.3, 191], [-30.3, 185], [-28.3, 189], [-26.3, 187], [-24.2, 189], [-22.2, 187], [-20.2, 189], [-18.2, 191], [-16.8, 215],
  [-15.5, 247], [-14.2, 268], [-12.8, 275], [-10.8, 271], [-8.8, 268], [-6.8, 264], [-4.8, 271], [-2.8, 279], [-0.9, 286], [-0.2, 290],
  [0, 370],
];

const yearTicks = [-800000, -600000, -400000, -200000, 0];
const leftTicks = [200, 300, 400, 500, 600];
const rightTicks = [0, 0.02, 0.04, 0.06, 0.08, 0.1, 0.12, 0.14];
const rightTickLabels = ["0", "0.02", "0.04", "0.06", "0.08", "0.1", "0.12", "0.14"];

const W = 4864;
const H = 2104;
const PL = 199;
const PR = 4676;
const PT = 22;
const PB = 1915;
const FONT = "'Liberation Sans', Arial, Helvetica, sans-serif";

export default function App() {
  const x = d3.scaleLinear().domain([-800000, 50000]).range([PL, PR]);
  const yL = d3.scaleLinear().domain([180.2, 621]).range([PB, PT]);
  const yR = d3.scaleLinear().domain([0, 0.14]).range([PB, PT]);
  const xk = (d: Pt) => x(d[0] * 1000);

  const lineL = d3.line<Pt>().x(xk).y((d) => yL(d[1]));
  const smoothL = d3.line<Pt>().x(xk).y((d) => yL(d[1])).curve(d3.curveMonotoneX);
  const smoothR = d3.line<Pt>().x(xk).y((d) => yR(d[1])).curve(d3.curveMonotoneX);
  const areaL = d3.area<Pt>().x(xk).y0(PB).y1((d) => yL(d[1]));

  const hGrid = d3.range(200, 601, 20);
  const vGrid = d3.range(-750000, 0, 50000);
  const leftMinor = d3.range(200, 621, 20).filter((v) => v % 100 !== 0);
  const rightMinor = d3.range(0, 141, 5).filter((v) => v % 20 !== 0).map((v) => v / 1000);
  const xMinor = d3.range(-750000, 1, 50000).filter((v) => v % 200000 !== 0);

  return (
    <svg
      width={4096}
      height={1772}
      viewBox={`0 0 ${W} ${H}`}
      style={{ position: "absolute", left: 0, top: 0, display: "block" }}
      fontFamily={FONT}
    >
      <defs>
        <clipPath id="rightLabelClip">
          <rect x={PR} y={20} width={W - PR} height={H - 20} />
        </clipPath>
      </defs>
      <rect x={0} y={0} width={W} height={H} fill="#ffffff" />

      {/* filled series */}
      <path d={areaL(iceVolume) || ""} fill="#b7b7b7" />
      <path d={areaL(co2) || ""} fill="#f5f02a" />
      <path d={areaL(dust) || ""} fill="#951d95" fillOpacity={0.385} />

      {/* grid */}
      <g stroke="#8a8a8a" strokeWidth={2.2}>
        {hGrid.map((v) => (
          <line key={"h" + v} x1={PL} x2={PR} y1={yL(v)} y2={yL(v)} />
        ))}
        {vGrid.map((v) => (
          <line key={"v" + v} x1={x(v)} x2={x(v)} y1={PT} y2={PB} />
        ))}
      </g>
      <line x1={x(0)} x2={x(0)} y1={PT} y2={PB} stroke="#6f6f6f" strokeWidth={6} />

      {/* line series */}
      <g fill="none" strokeLinejoin="round" strokeLinecap="round">
        <path d={lineL(iceVolume) || ""} stroke="#36f0f4" strokeWidth={5.5} />
        <path d={lineL(dust) || ""} stroke="#8e2a9e" strokeWidth={2.8} />
        <path d={lineL(co2) || ""} stroke="#f8f31c" strokeWidth={3.6} />
        <path d={lineL(epicaTemp) || ""} stroke="#f2300c" strokeWidth={3} />
        <path d={smoothR(eccentricity) || ""} stroke="#000000" strokeWidth={7} />
        <path d={smoothL(insolation) || ""} stroke="#1d3be0" strokeWidth={7} />
      </g>

      {/* frame */}
      <g stroke="#000" fill="none">
        <line x1={PL} x2={PR} y1={PT} y2={PT} strokeWidth={2.6} />
        <line x1={PL} x2={x(-750000)} y1={PT} y2={PT} strokeWidth={5} />
        <line x1={PL} x2={PL} y1={PT - 2} y2={PB + 2.5} strokeWidth={4.5} />
        <line x1={PR} x2={PR} y1={PT - 1} y2={PB + 2.5} strokeWidth={4.5} />
        <line x1={PL - 2} x2={PR + 2} y1={PB} y2={PB} strokeWidth={5} />
      </g>

      {/* ticks */}
      <g stroke="#000">
        {leftTicks.map((v) => (
          <line key={"lt" + v} x1={PL} x2={PL + 29} y1={yL(v)} y2={yL(v)} strokeWidth={4} />
        ))}
        {leftMinor.map((v) => (
          <line key={"lm" + v} x1={PL} x2={PL + 13} y1={yL(v)} y2={yL(v)} strokeWidth={3} />
        ))}
        {rightTicks.map((v) => (
          <line key={"rt" + v} x1={PR - 31} x2={PR} y1={yR(v)} y2={yR(v)} strokeWidth={4} />
        ))}
        {rightMinor.map((v) => (
          <line key={"rm" + v} x1={PR - 14} x2={PR} y1={yR(v)} y2={yR(v)} strokeWidth={3} />
        ))}
        {yearTicks.map((v) => (
          <line key={"xt" + v} x1={x(v)} x2={x(v)} y1={PB} y2={PB - 28} strokeWidth={4} />
        ))}
        {xMinor.map((v) => (
          <line key={"xm" + v} x1={x(v)} x2={x(v)} y1={PB} y2={PB - 13} strokeWidth={3} />
        ))}
      </g>

      {/* tick labels */}
      <g fontSize={42} fill="#000">
        {leftTicks.map((v) => (
          <text key={"ll" + v} x={172} y={yL(v)} dy="0.35em" textAnchor="end">
            {v}
          </text>
        ))}
        <g clipPath="url(#rightLabelClip)">
          {rightTicks.map((v, i) => (
            <text key={"rl" + v} x={4702} y={yR(v)} dy="0.35em" textAnchor="start">
              {rightTickLabels[i]}
            </text>
          ))}
        </g>
        {yearTicks.map((v) => (
          <text key={"xl" + v} x={x(v)} y={1962} dy="0.35em" textAnchor="middle">
            {v}
          </text>
        ))}
      </g>

      {/* axis titles */}
      <text x={2294} y={2072} fontSize={70} textAnchor="middle" fill="#000">
        Years before present
      </text>
      <text transform="translate(62,1075) rotate(-90)" fontSize={61} textAnchor="middle" fill="#000">
        W/m2 and for CO2 ppm
      </text>
      <text transform="translate(4850,1138) rotate(-90)" fontSize={50} textAnchor="middle" fill="#000">
        Eccentricty  of Earth's Orbit
      </text>

      {/* series labels */}
      <g fill="#000">
        <text x={1876} y={150} fontSize={47}>Maximum summer insolation at the north pole</text>
        <text x={2668} y={735} fontSize={46}>Epica Temp-anomaly</text>
        <text x={815} y={1006} fontSize={43}>ICE VOLUME (relative)</text>
        <text x={921} y={1788} fontSize={42}>DUST</text>
        <text x={1702} y={1752} fontSize={42}>CO2</text>
      </g>
    </svg>
  );
}
